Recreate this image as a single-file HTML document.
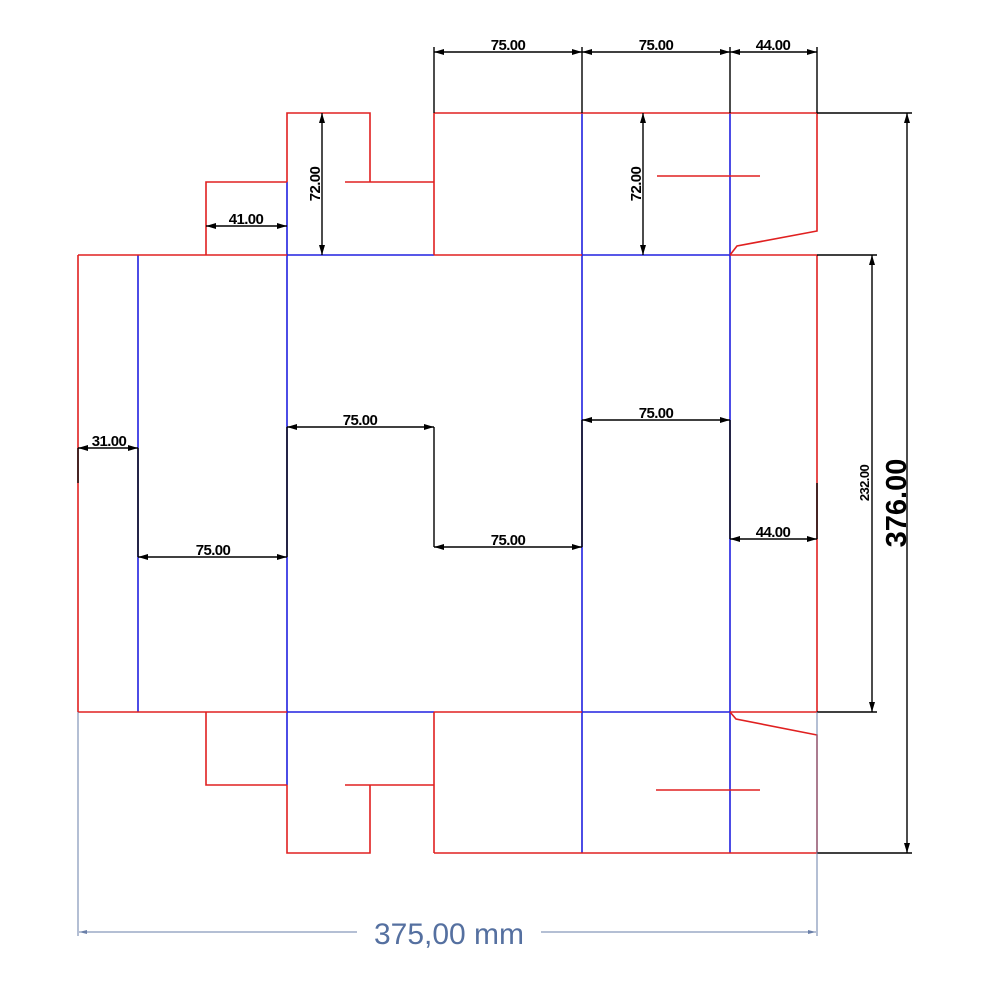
<!DOCTYPE html>
<html><head><meta charset="utf-8"><style>
html,body{margin:0;padding:0;background:#fff;}
svg{display:block;}
text{font-family:"Liberation Sans",Arial,sans-serif;}
</style></head><body>
<svg width="986" height="986" viewBox="0 0 986 986" xmlns="http://www.w3.org/2000/svg">
<defs>
<marker id="a" viewBox="0 0 10 6" refX="10" refY="3" markerWidth="10" markerHeight="6" orient="auto-start-reverse" markerUnits="userSpaceOnUse"><path d="M0,0 L10,3 L0,6 z" fill="#000"/></marker>
<marker id="g" viewBox="0 0 8 6" refX="8" refY="3" markerWidth="8" markerHeight="6" orient="auto-start-reverse" markerUnits="userSpaceOnUse"><path d="M0,1 L8,3 L0,5 z" fill="#6a7fa8"/></marker>
</defs>
<g stroke="#2020e0" stroke-width="1.6" fill="none">
<line x1="138" y1="255" x2="138" y2="712"/>
<line x1="287" y1="182" x2="287" y2="785"/>
<line x1="582" y1="113" x2="582" y2="853"/>
<line x1="730" y1="113" x2="730" y2="853"/>
<line x1="287" y1="255" x2="434" y2="255"/>
<line x1="582" y1="255" x2="730" y2="255"/>
<line x1="287" y1="712" x2="434" y2="712"/>
<line x1="582" y1="712" x2="730" y2="712"/>
</g>
<g stroke="#e02020" stroke-width="1.6" fill="none">
<line x1="78" y1="255" x2="287" y2="255"/>
<line x1="434" y1="255" x2="582" y2="255"/>
<line x1="730" y1="255" x2="817" y2="255"/>
<line x1="78" y1="712" x2="287" y2="712"/>
<line x1="434" y1="712" x2="582" y2="712"/>
<line x1="730" y1="712" x2="817" y2="712"/>
<line x1="78" y1="255" x2="78" y2="712"/>
<line x1="817" y1="255" x2="817" y2="712"/>
<polyline points="206,255 206,182 287,182"/>
<polyline points="287,182 287,113 370,113 370,182"/>
<line x1="345" y1="182" x2="434" y2="182"/>
<line x1="434" y1="113" x2="434" y2="255"/>
<line x1="434" y1="113" x2="817" y2="113"/>
<polyline points="817,113 817,231 737,246 730,255"/>
<line x1="657" y1="176" x2="760" y2="176"/>
<polyline points="206,712 206,785 287,785"/>
<polyline points="287,785 287,853 370,853 370,785"/>
<line x1="345" y1="785" x2="434" y2="785"/>
<line x1="434" y1="712" x2="434" y2="853"/>
<line x1="434" y1="853" x2="817" y2="853"/>
<polyline points="730,712 736,719 817,735 817,853"/>
<line x1="656" y1="790" x2="760" y2="790"/>
</g>
<g stroke="#000" stroke-width="1.4" fill="none">
<line x1="434" y1="47" x2="434" y2="113"/>
<line x1="582" y1="47" x2="582" y2="113"/>
<line x1="730" y1="47" x2="730" y2="113"/>
<line x1="817" y1="47" x2="817" y2="113"/>
<line x1="434" y1="52" x2="582" y2="52" marker-start="url(#a)" marker-end="url(#a)"/>
<line x1="582" y1="52" x2="730" y2="52" marker-start="url(#a)" marker-end="url(#a)"/>
<line x1="730" y1="52" x2="817" y2="52" marker-start="url(#a)" marker-end="url(#a)"/>
<line x1="322" y1="113" x2="322" y2="255" marker-start="url(#a)" marker-end="url(#a)"/>
<line x1="643" y1="113" x2="643" y2="255" marker-start="url(#a)" marker-end="url(#a)"/>
<line x1="206" y1="226" x2="287" y2="226" marker-start="url(#a)" marker-end="url(#a)"/>
<line x1="78" y1="448" x2="138" y2="448" marker-start="url(#a)" marker-end="url(#a)"/>
<line x1="138" y1="557" x2="287" y2="557" marker-start="url(#a)" marker-end="url(#a)"/>
<line x1="287" y1="427" x2="434" y2="427" marker-start="url(#a)" marker-end="url(#a)"/>
<line x1="434" y1="547" x2="582" y2="547" marker-start="url(#a)" marker-end="url(#a)"/>
<line x1="582" y1="420" x2="730" y2="420" marker-start="url(#a)" marker-end="url(#a)"/>
<line x1="730" y1="539" x2="817" y2="539" marker-start="url(#a)" marker-end="url(#a)"/>
<line x1="78" y1="448" x2="78" y2="483"/>
<line x1="138" y1="448" x2="138" y2="557"/>
<line x1="287" y1="427" x2="287" y2="557"/>
<line x1="434" y1="427" x2="434" y2="547"/>
<line x1="582" y1="420" x2="582" y2="547"/>
<line x1="730" y1="420" x2="730" y2="539"/>
<line x1="817" y1="483" x2="817" y2="539"/>
<line x1="817" y1="255" x2="877" y2="255"/>
<line x1="817" y1="712" x2="877" y2="712"/>
<line x1="872" y1="255" x2="872" y2="712" marker-start="url(#a)" marker-end="url(#a)"/>
<line x1="817" y1="113" x2="912" y2="113"/>
<line x1="817" y1="853" x2="912" y2="853"/>
<line x1="907" y1="113" x2="907" y2="853" marker-start="url(#a)" marker-end="url(#a)"/>
</g>
<g font-weight="bold" font-size="15" fill="#000" text-anchor="middle" letter-spacing="-0.6">
<text x="508" y="50">75.00</text>
<text x="656" y="50">75.00</text>
<text x="773" y="50">44.00</text>
<text x="246" y="224">41.00</text>
<text x="109" y="446">31.00</text>
<text x="213" y="555">75.00</text>
<text x="360" y="425">75.00</text>
<text x="508" y="545">75.00</text>
<text x="656" y="418">75.00</text>
<text x="773" y="537">44.00</text>
<text transform="translate(320,184) rotate(-90)">72.00</text>
<text transform="translate(641,184) rotate(-90)">72.00</text>
<text font-size="13" transform="translate(869,483) rotate(-90)">232.00</text>
<text font-size="29" letter-spacing="0" transform="translate(906,503) rotate(-90)">376.00</text>
</g>
<g stroke="#6a7fa8" stroke-width="1" fill="none">
<line x1="78" y1="712" x2="78" y2="936"/>
<line x1="817" y1="712" x2="817" y2="936"/>
<line x1="79" y1="932" x2="357" y2="932" marker-start="url(#g)"/>
<line x1="541" y1="932" x2="816" y2="932" marker-end="url(#g)"/>
</g>
<text x="449" y="944" font-size="30" fill="#5570a0" text-anchor="middle">375,00 mm</text>
</svg>
</body></html>
